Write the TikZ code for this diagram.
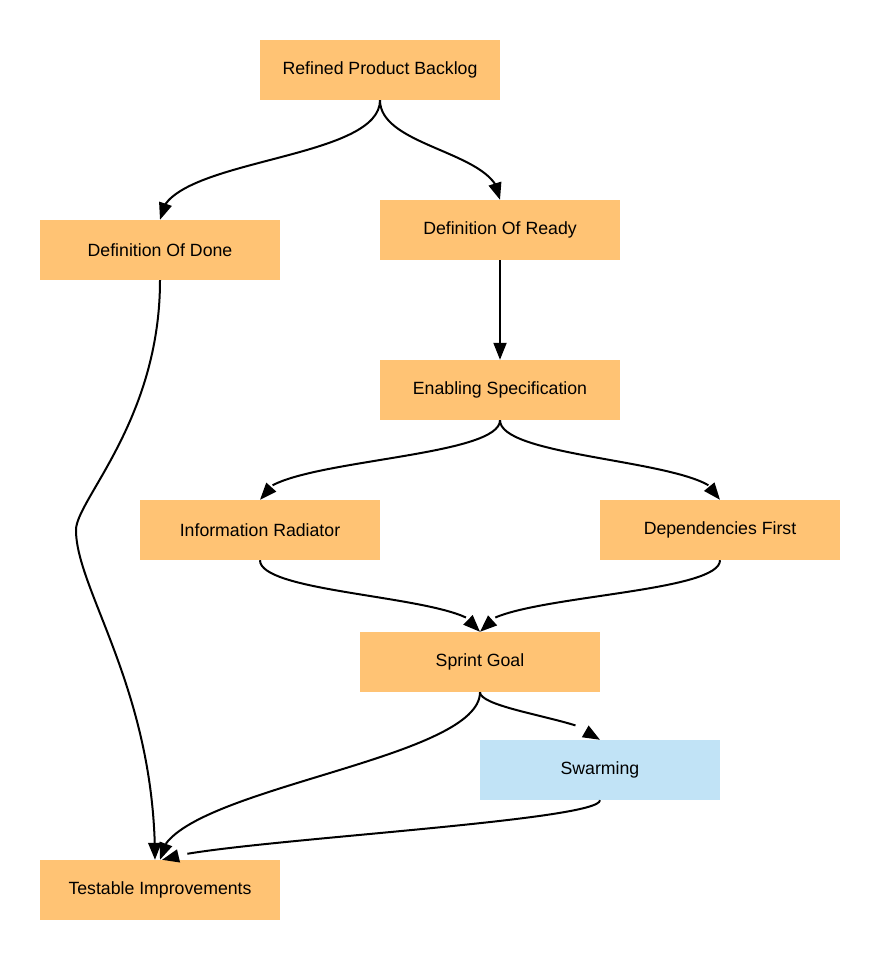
\documentclass[tikz,border=0pt]{standalone}
\usepackage{fontspec}
\setmainfont{Liberation Sans}
\usetikzlibrary{arrows.meta,bending}
\definecolor{boxorange}{HTML}{FFC374}
\definecolor{boxblue}{HTML}{C1E3F6}
\begin{document}
\begin{tikzpicture}[x=1pt,y=-1pt,
  box/.style={rectangle, fill=boxorange, minimum width=240pt, minimum height=60pt, inner sep=0pt, font=\fontsize{17.7}{20}\selectfont},
  bluebox/.style={box, fill=boxblue},
  conn/.style={line width=2pt, -{Triangle[length=17pt,width=13pt,flex]}},
  connplain/.style={line width=2pt, -{Triangle[length=17pt,width=13pt]}}]
\fill[white] (0,0) rectangle (880,960);
\useasboundingbox (0,0) rectangle (880,960);
\node[box] (rpb) at (380,70) {Refined Product Backlog};
\node[box] (dod) at (160,250) {Definition Of Done};
\node[box] (dor) at (500,230) {Definition Of Ready};
\node[box] (es) at (500,390) {Enabling Specification};
\node[box] (ir) at (260,530) {Information Radiator};
\node[box] (df) at (720,530) {Dependencies First};
\node[box] (sg) at (480,662) {Sprint Goal};
\node[bluebox] (sw) at (600,770) {Swarming};
\node[box] (ti) at (160,890) {Testable Improvements};
\coordinate (mid) at (76,530);
\draw[conn] (rpb.south) .. controls +(0,62) and +(0,-62) .. (dod.north);
\draw[conn] (rpb.south) .. controls +(0,48) and +(0,-48) .. (dor.north);
\draw[conn] (dor.south) -- (es.north);
\draw[conn] (es.south) .. controls +(0,40) and +(0,-40) .. (ir.north);
\draw[conn] (es.south) .. controls +(0,40) and +(0,-40) .. (df.north);
\draw[conn] (ir.south) .. controls +(0,36) and +(0,-36) .. (sg.north);
\draw[conn] (df.south) .. controls +(0,36) and +(0,-36) .. (sg.north);
\draw[conn] (dod.south) .. controls +(0,140) and +(0,-30) .. (mid)
  .. controls +(0,60) and +(0,-170) .. ([xshift=-5pt]ti.north);
\draw[conn] (sg.south) .. controls +(0,70) and +(0,-70) .. (ti.north);
\draw[conn] (sg.south) .. controls +(0,18) and +(0,-18) .. (sw.north);
\draw[connplain] (sw.south) .. controls +(0,22) and +(40,-18) .. ([xshift=2pt]ti.north);
\end{tikzpicture}
\end{document}
